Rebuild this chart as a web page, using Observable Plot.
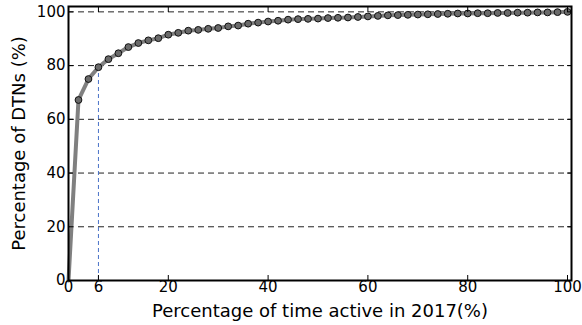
<!DOCTYPE html>
<html><head><meta charset="utf-8">
<script src="https://cdn.jsdelivr.net/npm/d3@7"></script>
<script src="https://cdn.jsdelivr.net/npm/@observablehq/plot@0.6"></script>
<style>
html,body{margin:0;padding:0;background:#fff;}
</style></head>
<body><div id="chart"></div>
<script>
const timeActive = [0,2,4,6,8,10,12,14,16,18,20,22,24,26,28,30,32,34,36,38,40,42,44,46,48,50,52,54,56,58,60,62,64,66,68,70,72,74,76,78,80,82,84,86,88,90,92,94,96,98,100];
const pctDTNs = [0,67.2,75.0,79.4,82.4,84.6,86.9,88.4,89.4,90.2,91.5,92.2,93.0,93.3,93.7,94.0,94.6,94.9,95.6,96.0,96.4,96.7,97.1,97.3,97.4,97.5,97.7,97.8,97.9,98.1,98.3,98.5,98.7,98.8,98.9,99.0,99.1,99.2,99.3,99.4,99.4,99.5,99.5,99.6,99.6,99.7,99.7,99.8,99.8,99.9,100];
const xTicks = [0,6,20,40,60,80,100];
const yTicks = [0,20,40,60,80,100];
const gridTicks = [20,40,60,80,100];
const markX = 6;

const data = timeActive.map((x,i)=>({x, y:pctDTNs[i]}));
const markY = data.find(d=>d.x===markX).y;

const chart = Plot.plot({
  width: 582, height: 325,
  marginLeft: 68, marginRight: 11, marginTop: 6, marginBottom: 45,
  style: {fontFamily: "DejaVu Sans", fontSize: "15px", color: "black", background: "white"},
  x: {domain: [0, 100.8], label: null},
  y: {domain: [0, 102], label: null},
  marks: [
    Plot.gridY(gridTicks, {stroke: "#222", strokeOpacity: 1, strokeWidth: 1, strokeDasharray: "6,4"}),
    Plot.ruleX([{x: markX, y: markY}], {x: "x", y1: 0, y2: "y", stroke: "#4a72c8", strokeWidth: 1, strokeDasharray: "4,3"}),
    Plot.line(data, {x: "x", y: "y", stroke: "#808080", strokeWidth: 4}),
    Plot.dot(data.filter(d=>d.x>0), {x: "x", y: "y", r: 3.4, fill: "#6a6a6a", stroke: "#111", strokeWidth: 1}),
    Plot.axisX(xTicks, {anchor: "bottom", tickSize: 0, tickPadding: 1, fontSize: 15, label: null}),
    Plot.axisX(xTicks, {anchor: "bottom", tickSize: -5, text: null, label: null}),
    Plot.axisX(xTicks, {anchor: "top", tickSize: -5, text: null, label: null}),
    Plot.axisY(yTicks, {anchor: "left", tickSize: 0, tickPadding: 3, fontSize: 15, label: null}),
    Plot.axisY(yTicks, {anchor: "left", tickSize: -5, text: null, label: null}),
    Plot.axisY(yTicks, {anchor: "right", tickSize: -5, text: null, label: null}),
    Plot.frame({stroke: "black", strokeWidth: 2}),
    Plot.text(["Percentage of time active in 2017(%)"], {frameAnchor: "bottom", dy: 31, fontSize: 18, text: d=>d, lineAnchor: "middle"}),
    Plot.text(["Percentage of DTNs (%)"], {frameAnchor: "left", dx: -49, rotate: -90, fontSize: 18, text: d=>d, textAnchor: "middle", lineAnchor: "middle"})
  ]
});
document.getElementById("chart").appendChild(chart);
</script>
</body></html>
